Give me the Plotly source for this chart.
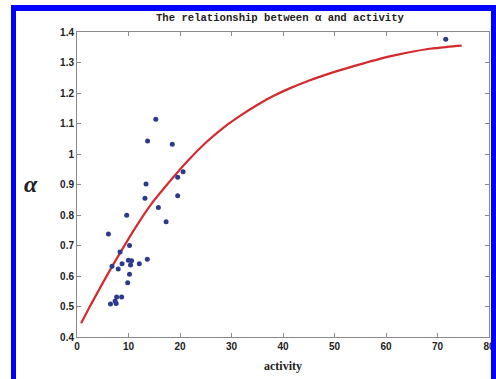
import plotly.graph_objects as go

# scatter data (activity, alpha)
pt_activity = [15.3, 13.7, 18.5, 20.6, 19.55, 13.4, 13.2, 19.55, 15.8, 17.3,
               9.65, 6.1, 10.2, 8.35, 13.65, 9.97, 10.6, 12.1, 10.4, 8.74,
               6.8, 8.0, 10.2, 9.84, 8.67, 7.7, 7.4, 6.5, 7.6, 71.6]
pt_alpha = [1.114, 1.043, 1.032, 0.942, 0.924, 0.902, 0.855, 0.863, 0.825, 0.778,
            0.799, 0.738, 0.700, 0.679, 0.655, 0.652, 0.650, 0.640, 0.636, 0.640,
            0.632, 0.623, 0.606, 0.578, 0.531, 0.531, 0.518, 0.508, 0.510, 1.376]

# fitted curve
fit_activity = [0.8, 2.5, 5.1, 7.05, 9.65, 11.6, 14.2, 18.1, 21.3, 25.2, 28.4,
                31.65, 34.9, 38.1, 41.4, 44.6, 47.8, 51.1, 55.6, 58.8, 62.1, 65.3,
                68.5, 71.8, 74.7]
fit_alpha = [0.445, 0.500, 0.580, 0.638, 0.712, 0.765, 0.831, 0.912, 0.974,
             1.040, 1.086, 1.125, 1.160, 1.190, 1.216, 1.238, 1.257, 1.275, 1.297,
             1.312, 1.325, 1.336, 1.345, 1.351, 1.355]

x_ticks = [0, 10, 20, 30, 40, 50, 60, 70, 80]
y_ticks = [0.4, 0.5, 0.6, 0.7, 0.8, 0.9, 1.0, 1.1, 1.2, 1.3, 1.4]
y_ticktext = ["0.4", "0.5", "0.6", "0.7", "0.8", "0.9", "1", "1.1", "1.2", "1.3", "1.4"]

fig = go.Figure()
fig.add_trace(go.Scatter(x=fit_activity, y=fit_alpha, mode="lines",
                         line=dict(color="#d42a2e", width=2.2, shape="spline", smoothing=1.0),
                         showlegend=False, hoverinfo="skip"))
fig.add_trace(go.Scatter(x=pt_activity, y=pt_alpha, mode="markers",
                         marker=dict(color="#2c3a8c", size=5),
                         showlegend=False, hoverinfo="skip"))

W, H = 496, 379
L, R, T, B = 77, 489, 32, 337

def px(x):
    return (x - L) / (R - L)

def py(y):
    return (B - y) / (B - T)

tickfont = dict(family="Liberation Sans", size=10, color="#222", weight="bold")
axis_common = dict(showline=True, linecolor="#8a8a8a", linewidth=1, mirror="ticks",
                   ticks="inside", ticklen=4, tickcolor="#8a8a8a", automargin=False,
                   showgrid=False, zeroline=False, tickfont=tickfont)

fig.update_layout(
    template="none",
    width=W, height=H, autosize=False,
    margin=dict(l=L, r=W - R, t=T, b=H - B, pad=0),
    paper_bgcolor="white", plot_bgcolor="white",
    xaxis=dict(range=[0, 80], tickvals=x_ticks, ticktext=[str(v) for v in x_ticks],
               **axis_common),
    yaxis=dict(range=[0.4, 1.4], tickvals=y_ticks, ticktext=y_ticktext,
               **axis_common),
    showlegend=False,
)

fig.add_annotation(text="The relationship between α and activity", xref="paper", yref="paper",
                   x=px(280), y=py(18), showarrow=False, xanchor="center", yanchor="middle",
                   font=dict(family="Liberation Mono", size=10.6, color="#222", weight="bold"))
fig.add_annotation(text="activity", xref="paper", yref="paper",
                   x=px(283), y=py(366), showarrow=False, xanchor="center", yanchor="middle",
                   font=dict(family="Liberation Serif", size=12, color="#222", weight="bold"))
fig.add_annotation(text="<i>α</i>", xref="paper", yref="paper",
                   x=px(31), y=py(184), showarrow=False, xanchor="center", yanchor="middle",
                   font=dict(family="Liberation Serif", size=24, color="#222", weight="bold"))

blue = "#0000ff"
for (x0, y0, x1, y1) in [(11, 5, 16, 400), (11, 5, 496, 11), (491, 5, 500, 400)]:
    fig.add_shape(type="rect", xref="paper", yref="paper",
                  x0=px(x0), x1=px(x1), y0=py(y1), y1=py(y0),
                  fillcolor=blue, line=dict(width=0), layer="above")

fig.write_html("out.html", config={"displayModeBar": False},
               post_script="document.body.style.margin='0';document.body.style.overflow='hidden';")
